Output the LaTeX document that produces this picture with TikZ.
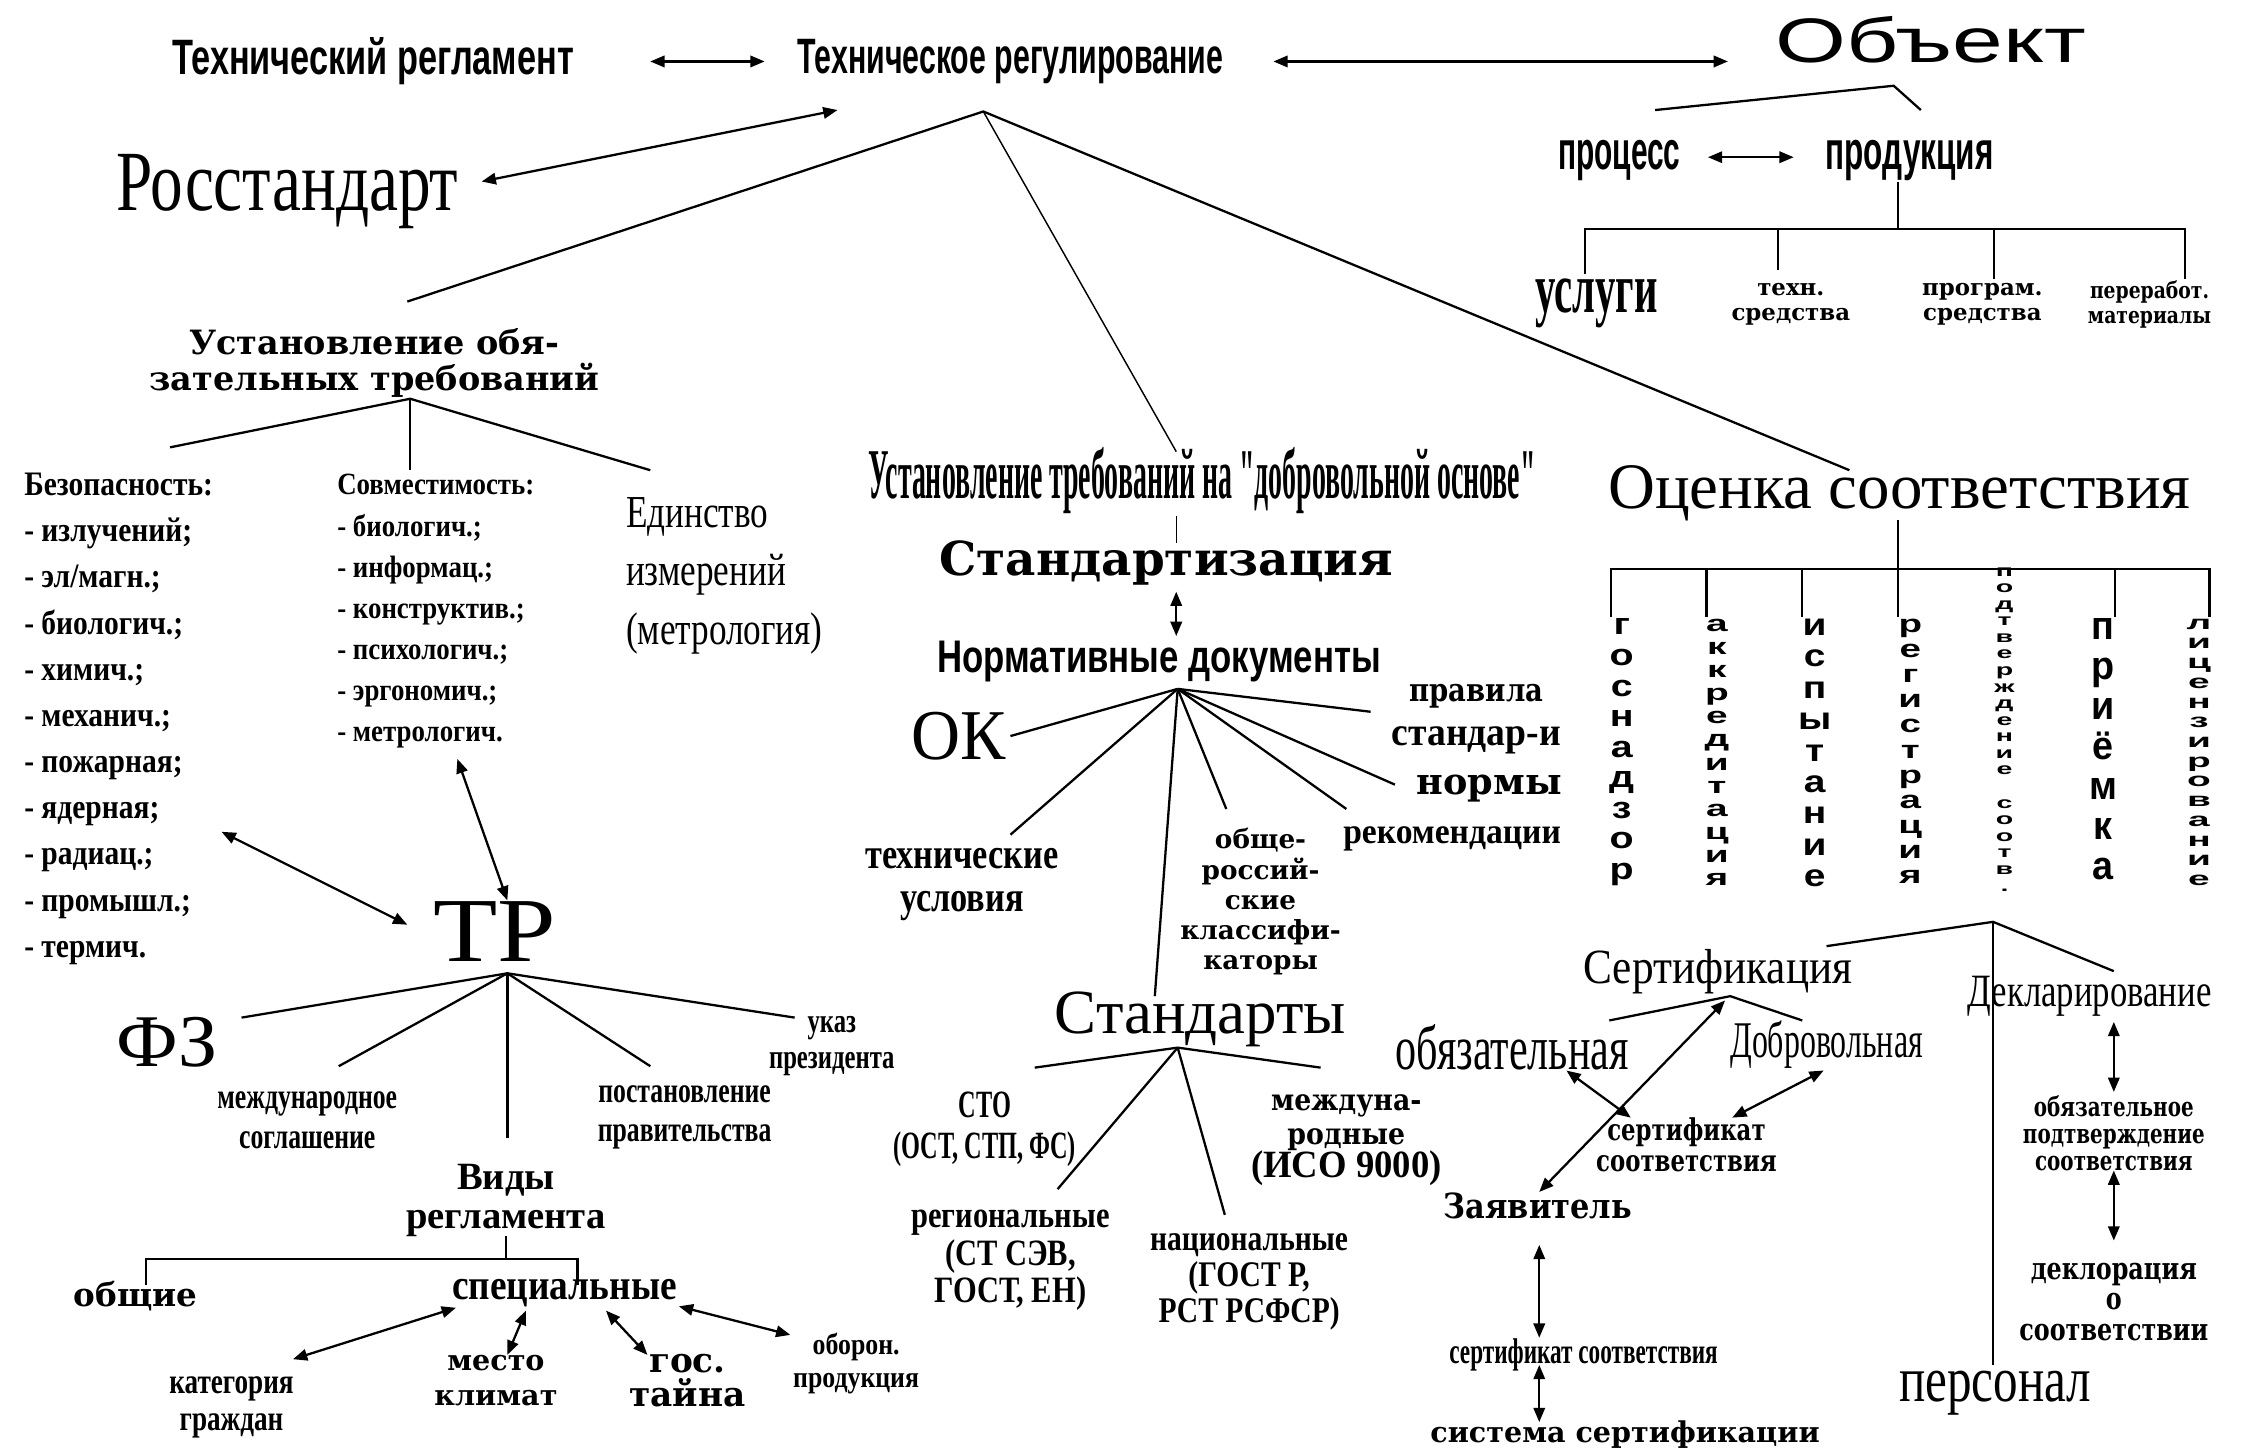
\documentclass[tikz,border=0pt]{standalone}
\usepackage{fontspec}
\setmainfont{Liberation Serif}
\newfontfamily\tms{Liberation Serif}
\newfontfamily\ars{Liberation Sans}
\newfontfamily\bkm{DejaVu Serif}
\usetikzlibrary{arrows.meta,positioning}

\makeatletter
\newcommand\stackword[4]{\vbox{\ars\bfseries\fontsize{#1}{#3}\selectfont\addfontfeatures{FakeStretch=#2}%
  \baselineskip=#3\relax\lineskiplimit=-\maxdimen
  \@tfor\stk@c:=#4\do{\hbox to 0pt{\hss\stk@c\hss}}}}
\makeatother

\tikzset{
  every node/.style={inner sep=0pt, outer sep=0pt, align=center},
  tb/.style n args={3}{font=\tms\bfseries\fontsize{#1}{#2}\selectfont\addfontfeatures{FakeStretch=#3}\lineskiplimit-20pt},
  tr/.style n args={3}{font=\tms\fontsize{#1}{#2}\selectfont\addfontfeatures{FakeStretch=#3}\lineskiplimit-20pt},
  sb/.style n args={3}{font=\ars\bfseries\fontsize{#1}{#2}\selectfont\addfontfeatures{FakeStretch=#3}},
  sr/.style n args={3}{font=\ars\fontsize{#1}{#2}\selectfont\addfontfeatures{FakeStretch=#3}},
  bk/.style n args={3}{font=\bkm\bfseries\fontsize{#1}{#2}\selectfont\addfontfeatures{FakeStretch=#3}\lineskiplimit-20pt},
  link/.style={line width=0.8pt},
  both/.style={link, <->},
}

\begin{document}
\begin{tikzpicture}[x=0.5pt, y=-0.5pt, >={Triangle[length=5pt,width=4pt]}]
\useasboundingbox[fill=white] (0,0) rectangle (1568,1017);

% top row
\node[sb={17.4}{20}{0.69}] (reglament) at (261,43) {Технический регламент};
\node[sb={17.4}{20}{0.61}] (regul) at (707,43) {Техническое регулирование};
\node[sr={22}{24}{1.45}] (obj) at (1351,28) {Объект};
\node[sb={19}{22}{0.55}] (process) at (1133,112) {процесс};
\node[sb={19}{22}{0.58}] (product) at (1336,112) {продукция};
\node[tb={25}{28}{0.57}] (uslugi) at (1117,212) {услуги};
\node[bk={8}{8.8}{1}] (tehsr) at (1253,213) {техн.\\средства};
\node[bk={8}{8.8}{1}] (progsr) at (1387,213) {програм.\\средства};
\node[bk={8}{8.8}{0.82}] (pererab) at (1504,213) {переработ.\\материалы};
\node[tr={30}{32}{0.76}] (rosst) at (201,134) {Росстандарт};

\coordinate (a1l) at (455,43);
\coordinate (a1r) at (535,43);
\coordinate (a2l) at (891,43);
\coordinate (a2r) at (1209,43);
\coordinate (ros1) at (586,77);
\coordinate (ros2) at (337,127);
\coordinate (hubtr) at (688,78);
\coordinate (tr1) at (285,211);
\coordinate (tr2) at (823,316);
\coordinate (tr3) at (1294,329);
\coordinate (ob1) at (1158,77);
\coordinate (ob2) at (1325,60);
\coordinate (ob3) at (1344,77);
\coordinate (pp1) at (1195,110);
\coordinate (pp2) at (1255,110);
\coordinate (pr1) at (1328,127);
\coordinate (pr2) at (1328,160);
\coordinate (tk-usl) at (1109,192);
\coordinate (tk-teh) at (1244,189);
\coordinate (tk-prg) at (1395,195);
\coordinate (tk-per) at (1529,195);

\draw[both] (a1l) -- (a1r);
\draw[both] (a2l) -- (a2r);
\draw[both] (ros1) -- (ros2);
\draw[link] (tr1) -- (hubtr) -- (tr3);
\draw[line width=0.5pt] (hubtr) -- (tr2);
\draw[link] (ob1) -- (ob2) -- (ob3);
\draw[both] (pp1) -- (pp2);
\draw[link] (pr1) -- (pr2);
\draw[link] (tk-usl) |- (pr2) -| (tk-per);
\draw[link] (tk-teh) -- (tk-teh |- pr2);
\draw[link] (tk-prg) -- (tk-prg |- pr2);

% mandatory requirements
\node[bk={11.7}{12.5}{1}] (ustob) at (262,254) {Установление обя-\\зательных требований};
\node[tb={12}{16.15}{0.86}, align=left, anchor=north west] (bezop) at (17,331)
  {Безопасность:\\- излучений;\\- эл/магн.;\\- биологич.;\\- химич.;\\- механич.;\\- пожарная;\\- ядерная;\\- радиац.;\\- промышл.;\\- термич.};
\node[tb={10.8}{14.4}{0.87}, align=left, anchor=north west] (sovm) at (236,332)
  {Совместимость:\\- биологич.;\\- информац.;\\- конструктив.;\\- психологич.;\\- эргономич.;\\- метрологич.};
\node[tr={16}{20.5}{0.77}, align=left, anchor=north west] (edinst) at (438,348)
  {Единство\\измерений\\(метрология)};
\node[tr={32}{34}{1.15}] (tr) at (346,652) {ТР};
\node[tr={26}{28}{1.05}] (fz) at (117,729) {ФЗ};
\node[tb={12.5}{14.15}{0.72}] (mezhd) at (215,784) {международное\\соглашение};
\node[tb={12.5}{13.5}{0.72}] (postan) at (479,782) {постановление\\правительства};
\node[tb={12}{12.5}{0.72}] (ukaz) at (582,732) {указ\\президента};
\node[tb={13.5}{13.6}{1}] (vidy) at (354,840) {Виды\\регламента};
\node[bk={11.4}{13}{1}] (obshie) at (95,907) {общие};
\node[tb={15}{17}{0.87}] (spec) at (395,905) {специальные};
\node[tb={12.5}{12.9}{0.76}] (kateg) at (162,985) {категория\\граждан};
\node[bk={10}{12}{1}] (mesto) at (347,966) {место\\климат};
\node[bk={12}{12.2}{1}] (gos) at (481,966) {гос.\\тайна};
\node[tb={10.5}{11.75}{0.86}] (oboron) at (599,954) {оборон.\\продукция};

\coordinate (hubuo) at (287,279);
\coordinate (uo1) at (119,313);
\coordinate (uo2) at (287,329);
\coordinate (uo3) at (455,329);
\coordinate (bz1) at (155,582);
\coordinate (bz2) at (285,647);
\coordinate (sv1) at (320,531);
\coordinate (sv2) at (355,630);
\coordinate (hubtp) at (355,681);
\coordinate (tp-fz) at (169,712);
\coordinate (tp-mz) at (237,746);
\coordinate (tp-vd) at (355,796);
\coordinate (tp-ps) at (455,746);
\coordinate (tp-uk) at (556,712);
\coordinate (vd-low) at (354,865);
\coordinate (vd-bar) at (354,881);
\coordinate (tk-obsh) at (102,899);
\coordinate (tk-spec) at (404,899);
\coordinate (sp1a) at (319,915);
\coordinate (sp1b) at (205,951);
\coordinate (sp2a) at (368,917);
\coordinate (sp2b) at (355,948);
\coordinate (sp3a) at (424,917);
\coordinate (sp3b) at (453,948);
\coordinate (sp4a) at (475,914);
\coordinate (sp4b) at (553,934);

\draw[link] (uo1) -- (hubuo) -- (uo3);
\draw[link] (hubuo) -- (uo2);
\draw[both] (bz1) -- (bz2);
\draw[both] (sv1) -- (sv2);
\draw[link] (tp-fz) -- (hubtp) -- (tp-uk);
\draw[link] (tp-mz) -- (hubtp) -- (tp-ps);
\draw[link] (hubtp) -- (tp-vd);
\draw[link] (vd-low) -- (vd-bar);
\draw[link] (tk-obsh) |- (vd-bar) -| (tk-spec);
\draw[both] (sp1a) -- (sp1b);
\draw[both] (sp2a) -- (sp2b);
\draw[both] (sp3a) -- (sp3b);
\draw[both] (sp4a) -- (sp4b);

% voluntary requirements
\node[tb={25}{27}{0.39}] (ustdobr) at (841,336) {Установление требований на "добровольной основе"};
\node[bk={16.4}{18}{1}] (standz) at (816,394) {Стандартизация};
\node[sb={16}{18}{0.76}] (normdoc) at (811,463) {Нормативные документы};
\node[tr={25}{27}{0.95}] (ok) at (671,515) {ОК};
\node[bk={11.3}{13}{0.85}] (pravila) at (1033,487) {правила};
\node[tb={14}{16}{0.94}] (standi) at (1033,518) {стандар-и};
\node[bk={12.8}{14}{1}] (normy) at (1042,552) {нормы};
\node[tb={12.5}{14}{0.94}] (rekom) at (1016,587) {рекомендации};
\node[tb={15}{15.2}{0.8}] (tehusl) at (673,619) {технические\\условия};
\node[bk={9.2}{10.6}{1}] (obsheros) at (882,631) {обще-\\россий-\\ские\\классифи-\\каторы};
\node[tr={22}{24}{1}] (standarty) at (840,713) {Стандарты};
\node[tb={13.5}{14.5}{0.63}] (sto) at (689,790) {СТО\\(ОСТ, СТП, ФС)};
\node[tb={13}{13.1}{0.82}] (region) at (707,882) {региональные\\(СТ СЭВ,\\ГОСТ, ЕН)};
\node[tb={12.6}{12.7}{0.82}] (nacion) at (874,897) {национальные\\(ГОСТ Р,\\РСТ РСФСР)};
\node[bk={10.4}{11.75}{0.9}] (mezhdunar) at (942,798)
  {междуна-\\родные\\{\tms\fontsize{13.5}{12}\selectfont\addfontfeatures{FakeStretch=0.95}(ИСО 9000)}};

\coordinate (dobr-low) at (823,361);
\coordinate (st-top) at (823,380);
\coordinate (st-a) at (823,414);
\coordinate (st-b) at (823,445);
\coordinate (hubnd) at (824,482);
\coordinate (nd-ok) at (707,515);
\coordinate (nd-tu) at (707,584);
\coordinate (nd-st) at (808,697);
\coordinate (nd-ob) at (858,566);
\coordinate (nd-rk) at (942,566);
\coordinate (nd-nm) at (976,549);
\coordinate (nd-pr) at (959,498);
\coordinate (hubst) at (824,733);
\coordinate (st-sto) at (724,747);
\coordinate (st-rg) at (740,832);
\coordinate (st-nc) at (857,850);
\coordinate (st-mz) at (924,747);

\draw[line width=0.5pt] (dobr-low) -- (st-top);
\draw[both] (st-a) -- (st-b);
\foreach \e in {nd-ok,nd-tu,nd-st,nd-ob,nd-rk,nd-nm,nd-pr}
  \draw[link] (hubnd) -- (\e);
\foreach \e in {st-sto,st-rg,st-nc,st-mz}
  \draw[link] (hubst) -- (\e);

% conformity assessment
\node[tr={22.7}{25}{1}] (ocenka) at (1329,345) {Оценка соответствия};
\node[anchor=north] (gosnadzor) at (1134.7,433) {\stackword{10.6}{1.3}{10.7pt}{госнадзор}};
\node[anchor=north] (akkred) at (1201.3,433) {\stackword{8}{1.7}{8.1pt}{аккредитация}};
\node[anchor=north] (ispyt) at (1269.7,433) {\stackword{10.9}{1.25}{11pt}{испытание}};
\node[anchor=north] (registr) at (1336.6,433) {\stackword{8.7}{1.55}{8.8pt}{регистрация}};
\node[anchor=north] (podtv) at (1402.5,397) {\stackword{5.7}{1.75}{5.8pt}{подтверждение~соотв.}};
\node[anchor=north] (priemka) at (1471.4,433) {\stackword{13.9}{0.95}{14pt}{приёмка}};
\node[anchor=north] (licenz) at (1538.6,433) {\stackword{6.8}{2}{6.9pt}{лицензирование}};

\coordinate (oc-low) at (1328,364);
\coordinate (oc-bar) at (1328,398);
\coordinate (tk-gos) at (1127,432);
\coordinate (tk-akk) at (1194,432);
\coordinate (tk-isp) at (1261,432);
\coordinate (tk-reg) at (1328,432);
\coordinate (tk-pri) at (1480,432);
\coordinate (tk-lic) at (1546,432);

\draw[link] (oc-low) -- (tk-reg);
\draw[link] (tk-gos) |- (oc-bar) -| (tk-lic);
\draw[link] (tk-akk) -- (tk-akk |- oc-bar);
\draw[link] (tk-isp) -- (tk-isp |- oc-bar);
\draw[link] (tk-pri) -- (tk-pri |- oc-bar);

% certification and declaration
\node[tr={17.2}{19}{0.88}] (sertif) at (1202,680) {Сертификация};
\node[tr={16.2}{18}{0.75}] (deklar) at (1462,697) {Декларирование};
\node[tr={22}{24}{0.67}] (obyaz) at (1058,733) {обязательная};
\node[tr={18}{20}{0.62}] (dobrov) at (1278,731) {Добровольная};
\node[bk={10.5}{10.6}{0.76}] (sertsoot) at (1180,801) {сертификат\\соответствия};
\node[bk={12.1}{14}{0.88}] (zayav) at (1076,844) {Заявитель};
\node[tb={12.5}{14}{0.65}] (sertsoot2) at (1108,948) {сертификат соответствия};
\node[bk={10}{12}{1}] (sistema) at (1137,1004) {система сертификации};
\node[bk={9.4}{9.5}{0.74}] (obpodtv) at (1479,793) {обязательное\\подтверждение\\соответствия};
\node[bk={10.7}{10.8}{0.78}] (deklor) at (1479,911) {деклорация\\о\\соответствии};
\node[tr={22.6}{24}{0.76}] (personal) at (1396,975) {персонал};

\coordinate (hubsd) at (1394.5,645);
\coordinate (sd-s) at (1278,662);
\coordinate (sd-p) at (1394.5,955);
\coordinate (sd-d) at (1479,679.5);
\coordinate (hubsf) at (1210.6,697);
\coordinate (sf-o) at (1126,714);
\coordinate (sf-d) at (1261,714);
\coordinate (ar1) at (1207,700);
\coordinate (ar2) at (1077,834);
\coordinate (ao1) at (1096,749);
\coordinate (ao2) at (1141,782);
\coordinate (ad1) at (1276,749);
\coordinate (ad2) at (1212,782);
\coordinate (az1) at (1077,871);
\coordinate (az2) at (1077,936);
\coordinate (az3) at (1077,955);
\coordinate (az4) at (1077,995);
\coordinate (dk1) at (1479,715);
\coordinate (dk2) at (1479,764);
\coordinate (dk3) at (1479,819);
\coordinate (dk4) at (1479,868);

\draw[link] (sd-s) -- (hubsd) -- (sd-d);
\draw[link] (hubsd) -- (sd-p);
\draw[link] (sf-o) -- (hubsf) -- (sf-d);
\draw[both] (ar1) -- (ar2);
\draw[both] (ao1) -- (ao2);
\draw[both] (ad1) -- (ad2);
\draw[both] (az1) -- (az2);
\draw[both] (az3) -- (az4);
\draw[both] (dk1) -- (dk2);
\draw[both] (dk3) -- (dk4);
\end{tikzpicture}
\end{document}
